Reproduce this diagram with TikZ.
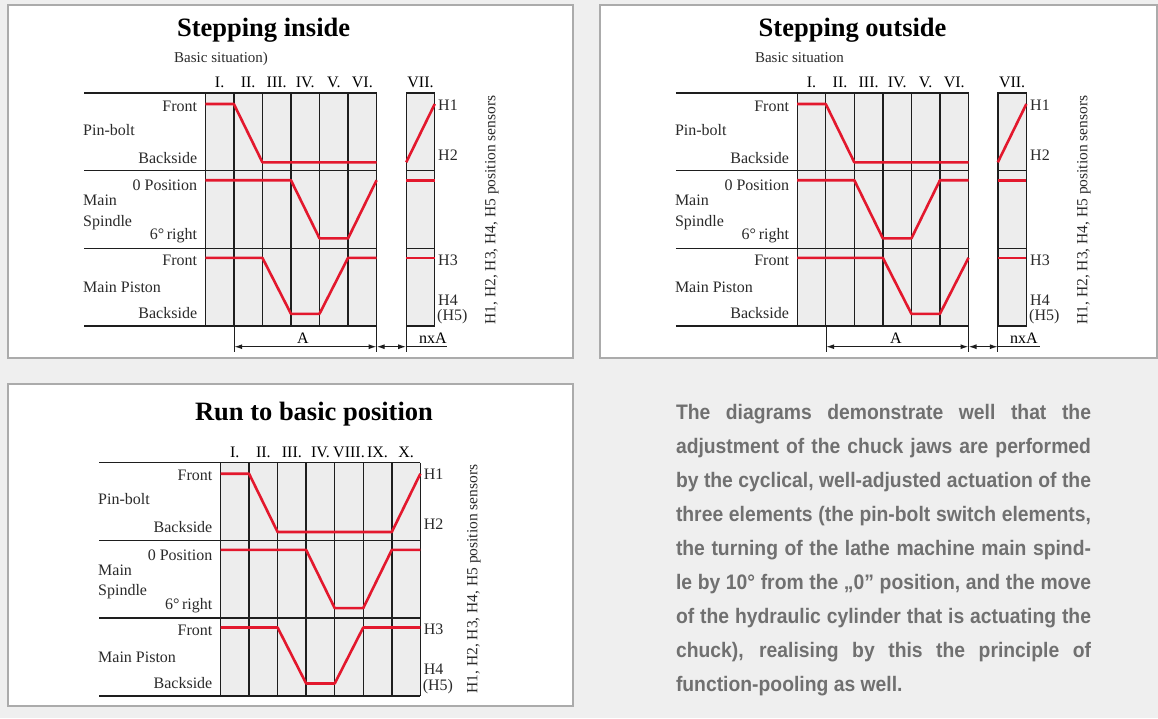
\documentclass[tikz,border=0pt]{standalone}
\usepackage{fontspec}
\setmainfont{Liberation Serif}
\newfontfamily\parafont[FakeStretch=0.92]{Liberation Sans Bold}
\usetikzlibrary{arrows.meta}
\definecolor{pagebg}{HTML}{EFEFEF}
\definecolor{panelborder}{HTML}{ABABAB}
\definecolor{cellgray}{HTML}{EDEDED}
\definecolor{sigred}{HTML}{E3182D}
\definecolor{paratext}{HTML}{707070}
\definecolor{gridblack}{HTML}{1E1E1E}
\definecolor{labeltext}{HTML}{2A2A2A}

\newcommand\drawgrid[4]{% #1 line left, #2 x0, #3 ncols, #4 top
  \fill[cellgray] (#2,#4) rectangle ({#2+#3*28.55},{#4+233.1});
  \foreach \i in {0,...,#3}{\draw[gridline] ({#2+\i*28.55},#4) -- ({#2+\i*28.55},{#4+233.1});}
  \foreach \j in {0,1,2,3}{\draw[gridline] (#1,{#4+\j*77.7}) -- ({#2+#3*28.55},{#4+\j*77.7});}
}
\newcommand\drawbox[2]{% #1 x0, #2 top : single column box
  \fill[cellgray] (#1,#2) rectangle ({#1+28.55},{#2+233.1});
  \draw[gridline] (#1,#2) rectangle ({#1+28.55},{#2+233.1});
  \draw[gridline] (#1,{#2+77.7}) -- ({#1+28.55},{#2+77.7});
  \draw[gridline] (#1,{#2+155.4}) -- ({#1+28.55},{#2+155.4});
}
\newcommand\rowlabels[4]{% #1 line left, #2 x0, #3 top, #4 prefix
  \node[lbl, anchor=base east] (#4front) at ({#2-8},{#3+18}) {Front};
  \node[lbl, anchor=base west] (#4pin) at ({#1-1},{#3+42}) {Pin-bolt};
  \node[lbl, anchor=base east] (#4back) at ({#2-8},{#3+70}) {Backside};
  \node[lbl, anchor=base east] (#4zero) at ({#2-8},{#3+97.7}) {0 Position};
  \node[lbl, anchor=base west] (#4main) at ({#1-1},{#3+112.7}) {Main};
  \node[lbl, anchor=base west] (#4spin) at ({#1-1},{#3+133}) {Spindle};
  \node[lbl, anchor=base east] (#4six) at ({#2-8},{#3+146.3}) {6°\,right};
  \node[lbl, anchor=base east] (#4pfront) at ({#2-8},{#3+172.7}) {Front};
  \node[lbl, anchor=base west] (#4piston) at ({#1-1},{#3+199.7}) {Main Piston};
  \node[lbl, anchor=base east] (#4pback) at ({#2-8},{#3+225.3}) {Backside};
}
\newcommand\hlabels[3]{% #1 x, #2 top, #3 prefix
  \node[lbl, anchor=base west] (#3h1) at (#1,{#2+17}) {H1};
  \node[lbl, anchor=base west] (#3h2) at (#1,{#2+67}) {H2};
  \node[lbl, anchor=base west] (#3h3) at (#1,{#2+172}) {H3};
  \node[lbl, anchor=base west] (#3h4) at (#1,{#2+212}) {H4};
  \node[lbl, anchor=base west] (#3h5) at ({#1-1},{#2+227.7}) {(H5)};
}

\begin{document}
\begin{tikzpicture}[x=1pt,y=-1pt,
  panel/.style={fill=white, draw=panelborder, line width=2pt},
  gridline/.style={draw=gridblack, line width=1.4pt},
  dimline/.style={draw=gridblack, line width=1.2pt},
  dimarrow/.style={dimline, {Latex[length=8pt,width=5pt]}-{Latex[length=8pt,width=5pt]}},
  signal/.style={draw=sigred, line width=2.6pt, line join=round},
  lbl/.style={font=\fontsize{16}{18}\selectfont, inner sep=0pt, text=labeltext},
  numeral/.style={font=\fontsize{16}{18}\selectfont, inner sep=0pt, text=black, anchor=base},
  title/.style={font=\bfseries\fontsize{26.5}{30}\selectfont, inner sep=0pt, anchor=base, text=black},
  sub/.style={font=\fontsize{15}{17}\selectfont, inner sep=0pt, anchor=base west, text=labeltext},
  sensors/.style={font=\fontsize{15.5}{17}\selectfont, inner sep=0pt, rotate=90, text=labeltext},
]
\useasboundingbox (0,0) rectangle (1158,718);
\fill[pagebg] (0,0) rectangle (1158,718);

% ---------------- Panel 1: Stepping inside ----------------
\draw[panel] (8,5) rectangle (572.5,358);
\node[title] (t1) at (263.6,36.7) {Stepping inside};
\node[sub] (s1) at (174,62.7) {Basic situation)};
\drawgrid{84}{205.3}{6}{93}
\drawbox{406.2}{93}
\foreach \n [count=\k from 0] in {I.,II.,III.,IV.,V.,VI.}
  {\node[numeral] (n1-\k) at ({205.3+28.55*\k+14.3},87.3) {\n};}
\node[numeral] (n1-7) at (420.5,87.3) {VII.};
\rowlabels{84}{205.3}{93}{a}
\hlabels{438}{93}{a}
\node[sensors] (sen1) at (492,210) {H1, H2, H3, H4, H5 position sensors};
\begin{scope}[shift={(205.3,93)}, x=28.55pt]
  \draw[signal] (0,11)--(1,11)--(2,69.3)--(6,69.3);
  \draw[signal] (0,87.2)--(3,87.2)--(4,145.4)--(5,145.4)--(6,87.2);
  \draw[signal] (0,164.8)--(2,164.8)--(3,220.8)--(4,220.8)--(5,164.8)--(6,164.8);
\end{scope}
\begin{scope}[shift={(406.2,93)}, x=28.55pt]
  \draw[signal] (0,69.3)--(1,11);
  \draw[signal] (0,87.2)--(1,87.2);
  \draw[signal] (0,164.8)--(1,164.8);
\end{scope}
\coordinate (e1a) at (234.2,326);   \coordinate (e1a') at (234.2,352);
\coordinate (e1b) at (376.6,326);   \coordinate (e1b') at (376.6,352);
\coordinate (e1c) at (406.2,326);   \coordinate (e1c') at (406.2,352);
\coordinate (d1a) at (234.2,346.7); \coordinate (d1b) at (376.6,346.7);
\coordinate (d1c) at (406.2,346.7); \coordinate (d1d) at (447,346.7);
\draw[dimline] (e1a) -- (e1a');
\draw[dimline] (e1b) -- (e1b');
\draw[dimline] (e1c) -- (e1c');
\draw[dimarrow] (d1a) -- (d1b);
\draw[dimarrow] (d1b) -- (d1c);
\draw[dimline] (d1c) -- (d1d);
\node[numeral] (A1) at (303,343.3) {A};
\node[numeral] (nA1) at (433,343.3) {nxA};

% ---------------- Panel 2: Stepping outside ----------------
\draw[panel] (600,5) rectangle (1157,358);
\node[title] (t2) at (852.6,36.7) {Stepping outside};
\node[sub] (s2) at (754.8,62.7) {Basic situation};
\drawgrid{675.8}{797.2}{6}{93}
\drawbox{997.8}{93}
\foreach \n [count=\k from 0] in {I.,II.,III.,IV.,V.,VI.}
  {\node[numeral] (n2-\k) at ({797.2+28.55*\k+14.3},87.3) {\n};}
\node[numeral] (n2-7) at (1012.1,87.3) {VII.};
\rowlabels{675.8}{797.2}{93}{b}
\hlabels{1030}{93}{b}
\node[sensors] (sen2) at (1084,210) {H1, H2, H3, H4, H5 position sensors};
\begin{scope}[shift={(797.2,93)}, x=28.55pt]
  \draw[signal] (0,11)--(1,11)--(2,69.3)--(6,69.3);
  \draw[signal] (0,87.2)--(2,87.2)--(3,145.4)--(4,145.4)--(5,87.2)--(6,87.2);
  \draw[signal] (0,164.8)--(3,164.8)--(4,220.8)--(5,220.8)--(6,164.8);
\end{scope}
\begin{scope}[shift={(997.8,93)}, x=28.55pt]
  \draw[signal] (0,69.3)--(1,11);
  \draw[signal] (0,87.2)--(1,87.2);
  \draw[signal] (0,164.8)--(1,164.8);
\end{scope}
\coordinate (e2a) at (826.1,326);   \coordinate (e2a') at (826.1,352);
\coordinate (e2b) at (968.5,326);   \coordinate (e2b') at (968.5,352);
\coordinate (e2c) at (997.8,326);   \coordinate (e2c') at (997.8,352);
\coordinate (d2a) at (826.1,346.7); \coordinate (d2b) at (968.5,346.7);
\coordinate (d2c) at (997.8,346.7); \coordinate (d2d) at (1040,346.7);
\draw[dimline] (e2a) -- (e2a');
\draw[dimline] (e2b) -- (e2b');
\draw[dimline] (e2c) -- (e2c');
\draw[dimarrow] (d2a) -- (d2b);
\draw[dimarrow] (d2b) -- (d2c);
\draw[dimline] (d2c) -- (d2d);
\node[numeral] (A2) at (896,343.3) {A};
\node[numeral] (nA2) at (1024,343.3) {nxA};

% ---------------- Panel 3: Run to basic position ----------------
\draw[panel] (8,384) rectangle (572.5,706);
\node[title] (t3) at (314,420) {Run to basic position};
\drawgrid{99}{220.5}{7}{462.7}
\foreach \n [count=\k from 0] in {I.,II.,III.,IV.,VIII.,IX.,X.}
  {\node[numeral] (n3-\k) at ({220.5+28.55*\k+14.3},457) {\n};}
\rowlabels{99}{220.5}{462.7}{c}
\hlabels{423.6}{462.7}{c}
\node[sensors] (sen3) at (474,579) {H1, H2, H3, H4, H5 position sensors};
\begin{scope}[shift={(220.5,462.7)}, x=28.55pt]
  \draw[signal] (0,11)--(1,11)--(2,69.3)--(6,69.3)--(7,11);
  \draw[signal] (0,87.2)--(3,87.2)--(4,145.4)--(5,145.4)--(6,87.2)--(7,87.2);
  \draw[signal] (0,164.8)--(2,164.8)--(3,220.8)--(4,220.8)--(5,164.8)--(7,164.8);
\end{scope}

% ---------------- Paragraph ----------------
\node[anchor=north west, inner sep=0pt, align=left, text=paratext,
      font=\parafont\fontsize{21}{34}\selectfont] (para) at (675.8,404) {%
\makebox[415pt][s]{The diagrams demonstrate well that the}\\
\makebox[415pt][s]{adjustment of the chuck jaws are performed}\\
\makebox[415pt][s]{by the cyclical, well-adjusted actuation of the}\\
\makebox[415pt][s]{three elements (the pin-bolt switch elements,}\\
\makebox[415pt][s]{the turning of the lathe machine main spind-}\\
\makebox[415pt][s]{le by 10° from the „0” position, and the move}\\
\makebox[415pt][s]{of the hydraulic cylinder that is actuating the}\\
\makebox[415pt][s]{chuck), realising by this the principle of}\\
function-pooling as well.};
\end{tikzpicture}
\end{document}
